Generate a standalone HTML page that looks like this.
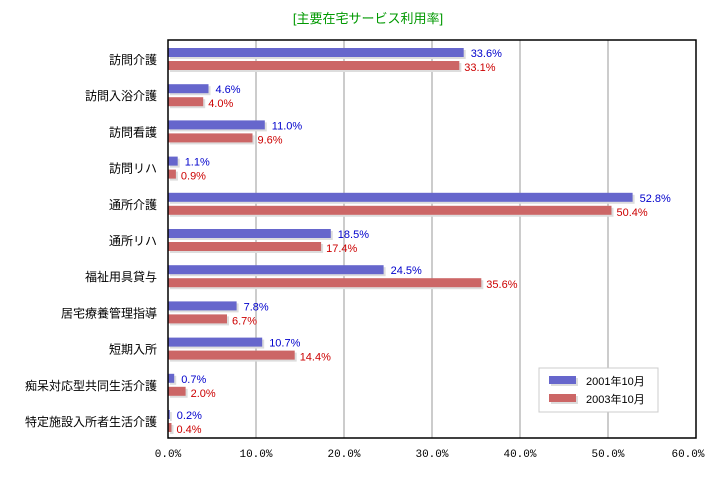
<!DOCTYPE html>
<html><head><meta charset="utf-8"><style>
body{margin:0;background:#fff;}
svg text{font-family:"Liberation Sans","Noto Sans CJK JP",sans-serif;}
svg text.m{font-family:"Liberation Mono",monospace;}
</style></head><body>
<svg width="708" height="472" xmlns="http://www.w3.org/2000/svg">
<defs>
<g id="n"></g>
</defs>
<text x="368" y="23" font-size="13" fill="#009900" text-anchor="middle">[主要在宅サービス利用率]</text>
<g stroke="#999" stroke-width="1">
<line x1="256" y1="40" x2="256" y2="438"/><line x1="344" y1="40" x2="344" y2="438"/>
<line x1="432" y1="40" x2="432" y2="438"/><line x1="520" y1="40" x2="520" y2="438"/>
<line x1="608" y1="40" x2="608" y2="438"/>
</g>

<g transform="translate(0,48)">
<text x="157" y="16" font-size="12" text-anchor="end">訪問介護</text>
<rect x="170" y="2" width="295.7" height="9" fill="#ddd"/><rect x="168" y="0" width="295.7" height="9" fill="#6666cc"/>
<rect x="170" y="15" width="291.3" height="9" fill="#ddd"/><rect x="168" y="13" width="291.3" height="9" fill="#cc6666"/>
<text x="470.7" y="9" font-size="11" fill="#0000cc">33.6%</text><text x="464.3" y="23" font-size="11" fill="#cc0000">33.1%</text>
</g>
<g transform="translate(0,84.2)">
<text x="157" y="16" font-size="12" text-anchor="end">訪問入浴介護</text>
<rect x="170" y="2" width="40.5" height="9" fill="#ddd"/><rect x="168" y="0" width="40.5" height="9" fill="#6666cc"/>
<rect x="170" y="15" width="35.2" height="9" fill="#ddd"/><rect x="168" y="13" width="35.2" height="9" fill="#cc6666"/>
<text x="215.5" y="9" font-size="11" fill="#0000cc">4.6%</text><text x="208.2" y="23" font-size="11" fill="#cc0000">4.0%</text>
</g>
<g transform="translate(0,120.4)">
<text x="157" y="16" font-size="12" text-anchor="end">訪問看護</text>
<rect x="170" y="2" width="96.8" height="9" fill="#ddd"/><rect x="168" y="0" width="96.8" height="9" fill="#6666cc"/>
<rect x="170" y="15" width="84.5" height="9" fill="#ddd"/><rect x="168" y="13" width="84.5" height="9" fill="#cc6666"/>
<text x="271.8" y="9" font-size="11" fill="#0000cc">11.0%</text><text x="257.5" y="23" font-size="11" fill="#cc0000">9.6%</text>
</g>
<g transform="translate(0,156.6)">
<text x="157" y="16" font-size="12" text-anchor="end">訪問リハ</text>
<rect x="170" y="2" width="9.7" height="9" fill="#ddd"/><rect x="168" y="0" width="9.7" height="9" fill="#6666cc"/>
<rect x="170" y="15" width="7.9" height="9" fill="#ddd"/><rect x="168" y="13" width="7.9" height="9" fill="#cc6666"/>
<text x="184.7" y="9" font-size="11" fill="#0000cc">1.1%</text><text x="180.9" y="23" font-size="11" fill="#cc0000">0.9%</text>
</g>
<g transform="translate(0,192.8)">
<text x="157" y="16" font-size="12" text-anchor="end">通所介護</text>
<rect x="170" y="2" width="464.6" height="9" fill="#ddd"/><rect x="168" y="0" width="464.6" height="9" fill="#6666cc"/>
<rect x="170" y="15" width="443.5" height="9" fill="#ddd"/><rect x="168" y="13" width="443.5" height="9" fill="#cc6666"/>
<text x="639.6" y="9" font-size="11" fill="#0000cc">52.8%</text><text x="616.5" y="23" font-size="11" fill="#cc0000">50.4%</text>
</g>
<g transform="translate(0,229)">
<text x="157" y="16" font-size="12" text-anchor="end">通所リハ</text>
<rect x="170" y="2" width="162.8" height="9" fill="#ddd"/><rect x="168" y="0" width="162.8" height="9" fill="#6666cc"/>
<rect x="170" y="15" width="153.1" height="9" fill="#ddd"/><rect x="168" y="13" width="153.1" height="9" fill="#cc6666"/>
<text x="337.8" y="9" font-size="11" fill="#0000cc">18.5%</text><text x="326.1" y="23" font-size="11" fill="#cc0000">17.4%</text>
</g>
<g transform="translate(0,265.2)">
<text x="157" y="16" font-size="12" text-anchor="end">福祉用具貸与</text>
<rect x="170" y="2" width="215.6" height="9" fill="#ddd"/><rect x="168" y="0" width="215.6" height="9" fill="#6666cc"/>
<rect x="170" y="15" width="313.3" height="9" fill="#ddd"/><rect x="168" y="13" width="313.3" height="9" fill="#cc6666"/>
<text x="390.6" y="9" font-size="11" fill="#0000cc">24.5%</text><text x="486.3" y="23" font-size="11" fill="#cc0000">35.6%</text>
</g>
<g transform="translate(0,301.4)">
<text x="157" y="16" font-size="12" text-anchor="end">居宅療養管理指導</text>
<rect x="170" y="2" width="68.6" height="9" fill="#ddd"/><rect x="168" y="0" width="68.6" height="9" fill="#6666cc"/>
<rect x="170" y="15" width="59" height="9" fill="#ddd"/><rect x="168" y="13" width="59" height="9" fill="#cc6666"/>
<text x="243.6" y="9" font-size="11" fill="#0000cc">7.8%</text><text x="232" y="23" font-size="11" fill="#cc0000">6.7%</text>
</g>
<g transform="translate(0,337.6)">
<text x="157" y="16" font-size="12" text-anchor="end">短期入所</text>
<rect x="170" y="2" width="94.2" height="9" fill="#ddd"/><rect x="168" y="0" width="94.2" height="9" fill="#6666cc"/>
<rect x="170" y="15" width="126.7" height="9" fill="#ddd"/><rect x="168" y="13" width="126.7" height="9" fill="#cc6666"/>
<text x="269.2" y="9" font-size="11" fill="#0000cc">10.7%</text><text x="299.7" y="23" font-size="11" fill="#cc0000">14.4%</text>
</g>
<g transform="translate(0,373.8)">
<text x="157" y="16" font-size="12" text-anchor="end">痴呆対応型共同生活介護</text>
<rect x="170" y="2" width="6.2" height="9" fill="#ddd"/><rect x="168" y="0" width="6.2" height="9" fill="#6666cc"/>
<rect x="170" y="15" width="17.6" height="9" fill="#ddd"/><rect x="168" y="13" width="17.6" height="9" fill="#cc6666"/>
<text x="181.2" y="9" font-size="11" fill="#0000cc">0.7%</text><text x="190.6" y="23" font-size="11" fill="#cc0000">2.0%</text>
</g>
<g transform="translate(0,410)">
<text x="157" y="16" font-size="12" text-anchor="end">特定施設入所者生活介護</text>
<rect x="170" y="2" width="1.8" height="9" fill="#ddd"/><rect x="168" y="0" width="1.8" height="9" fill="#6666cc"/>
<rect x="170" y="15" width="3.5" height="9" fill="#ddd"/><rect x="168" y="13" width="3.5" height="9" fill="#cc6666"/>
<text x="176.8" y="9" font-size="11" fill="#0000cc">0.2%</text><text x="176.5" y="23" font-size="11" fill="#cc0000">0.4%</text>
</g>

<rect x="168" y="40" width="528" height="398" fill="none" stroke="#000" stroke-width="1.5"/>
<g font-size="11" text-anchor="middle" fill="#000">
<text class="m" x="168" y="457">0.0%</text><text class="m" x="256" y="457">10.0%</text><text class="m" x="344" y="457">20.0%</text>
<text class="m" x="432" y="457">30.0%</text><text class="m" x="520" y="457">40.0%</text><text class="m" x="608" y="457">50.0%</text><text class="m" x="688" y="457">60.0%</text>
</g>
<rect x="539" y="368" width="119" height="44" fill="#fff" stroke="#ccc"/>
<rect x="551" y="378" width="27" height="8" fill="#ddd"/><rect x="549" y="376" width="27" height="8" fill="#6666cc"/>
<rect x="551" y="396" width="27" height="8" fill="#ddd"/><rect x="549" y="394" width="27" height="8" fill="#cc6666"/>
<text x="586" y="385" font-size="11">2001年10月</text>
<text x="586" y="403" font-size="11">2003年10月</text>
</svg>
</body></html>
